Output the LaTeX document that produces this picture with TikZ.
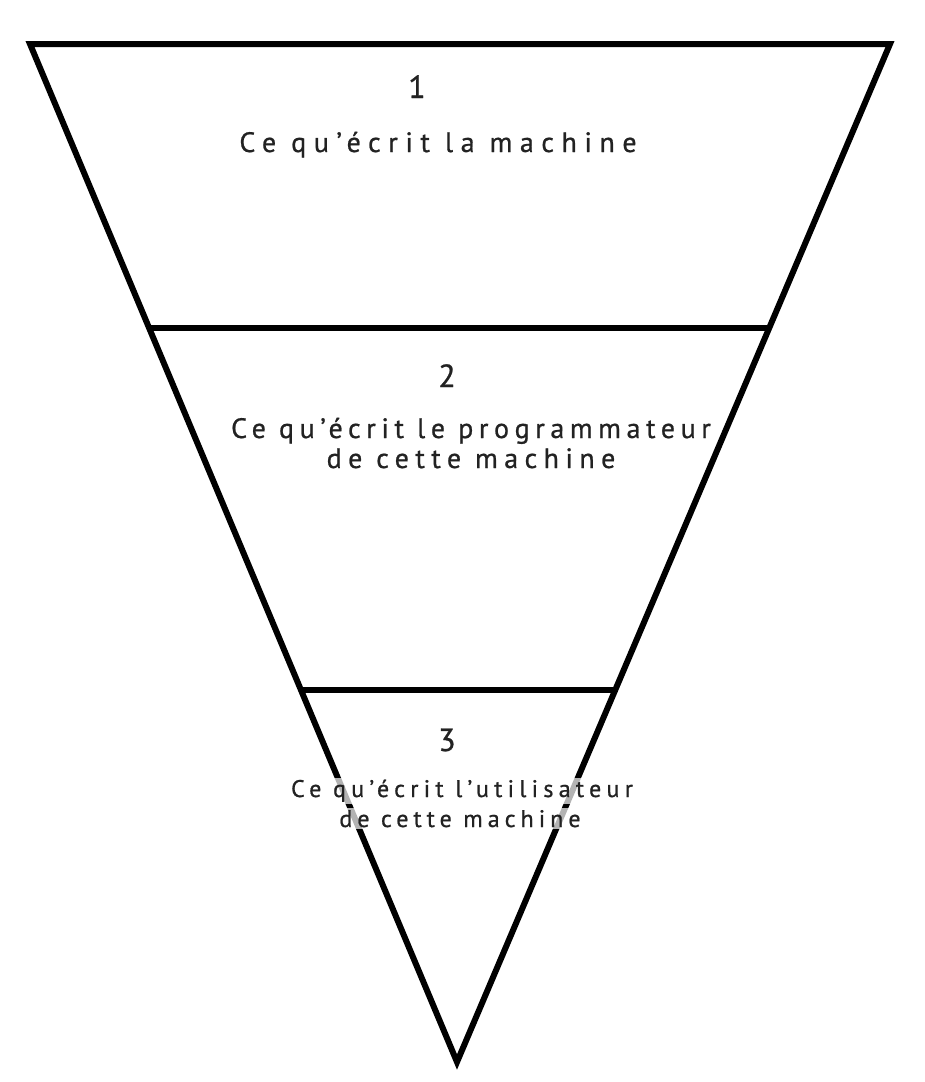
\documentclass[tikz,border=0pt]{standalone}
\usepackage{fontspec}
\setmainfont[FakeBold=0.8]{PT Sans}
\newfontfamily\lsA[LetterSpace=27,FakeBold=0.8]{PT Sans}
\newfontfamily\lsB[LetterSpace=20,FakeBold=0.8]{PT Sans}
\newfontfamily\lsC[LetterSpace=23,FakeBold=0.8]{PT Sans}
\newfontfamily\lsD[LetterSpace=22,FakeBold=0.8]{PT Sans}
\newfontfamily\lsE[LetterSpace=21,FakeBold=0.8]{PT Sans}
\definecolor{ink}{HTML}{222222}
\begin{document}
\begin{tikzpicture}[x=1pt,y=-1pt,
  edge/.style={line width=6pt, draw=black, line join=miter},
  num/.style={font=\fontsize{32}{34}\selectfont, text=ink, inner sep=0pt, anchor=base},
  lbl/.style={text=ink, inner sep=0pt, anchor=base},
  faded/.style={fill=white, fill opacity=0.7, text opacity=1, inner sep=2pt}]
\useasboundingbox (0,0) rectangle (925,1082);
\coordinate (TL) at (30,44);
\coordinate (TR) at (890,44);
\coordinate (B) at (457,1062);
\draw[edge] (TL) -- (TR) -- (B) -- cycle;
\path (TL) -- (B) coordinate[pos=0.279] (a1) coordinate[pos=0.6346] (a2);
\path (TR) -- (B) coordinate[pos=0.279] (b1) coordinate[pos=0.6346] (b2);
\draw[edge] (a1) -- (b1);
\draw[edge] (a2) -- (b2);
\node[num] (n1) at (417,98) {1};
\node[lbl, font=\lsA\fontsize{28}{30}\selectfont] (t1) at (438,152) {Ce qu’écrit la machine};
\node[num] (n2) at (447,387) {2};
\node[lbl, font=\lsB\fontsize{28}{30}\selectfont] (t2a) at (471,438) {Ce qu’écrit le programmateur};
\node[lbl, font=\lsC\fontsize{28}{30}\selectfont] (t2b) at (471,468) {de cette machine};
\node[num] (n3) at (447,751) {3};
\node[lbl, faded, font=\lsD\fontsize{24}{26}\selectfont] (t3a) at (462,797) {Ce qu’écrit l’utilisateur};
\node[lbl, faded, font=\lsE\fontsize{24}{26}\selectfont] (t3b) at (460,827) {de cette machine};
\end{tikzpicture}
\end{document}
